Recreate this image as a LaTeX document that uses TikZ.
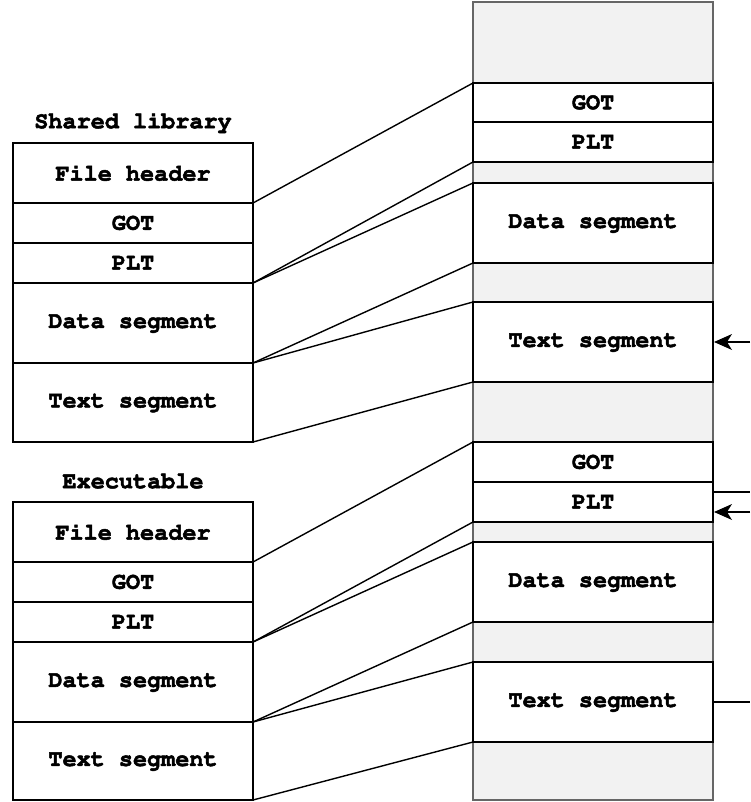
\documentclass[tikz,border=0pt]{standalone}
\usetikzlibrary{arrows.meta}
\definecolor{mgray}{HTML}{F2F2F2}
\definecolor{bgray}{HTML}{666666}
\newcommand{\courb}{\fontencoding{T1}\fontfamily{pcr}\fontseries{b}\fontsize{23.5}{27}\selectfont}
\newcommand{\fb}[1]{\special{pdf:literal direct 2 Tr 0.5 w}#1\special{pdf:literal direct 0 Tr}}
\begin{document}
\begin{tikzpicture}[x=1pt,y=-1pt,
  font=\courb,
  seg/.style={draw=black,line width=1.5pt,fill=white},
  conn/.style={line width=1.4pt},
  tiphead/.style={fill=black}]
\useasboundingbox (0,0) rectangle (750,802);
% memory column
\draw[fill=mgray,draw=bgray,line width=1.5pt] (473,2) rectangle (713,800);
% right segments
\draw[seg] (473,83) rectangle (713,122) node[midway] (rgot) {\fb{GOT}};
\draw[seg] (473,122) rectangle (713,162) node[midway] (rplt) {\fb{PLT}};
\draw[seg] (473,183) rectangle (713,263) node[midway] (rdata) {\fb{Data segment}};
\draw[seg] (473,302) rectangle (713,382) node[midway] (rtext) {\fb{Text segment}};
\draw[seg] (473,442) rectangle (713,482) node[midway] (rgotb) {\fb{GOT}};
\draw[seg] (473,482) rectangle (713,522) node[midway] (rpltb) {\fb{PLT}};
\draw[seg] (473,542) rectangle (713,622) node[midway] (rdatab) {\fb{Data segment}};
\draw[seg] (473,662) rectangle (713,742) node[midway] (rtextb) {\fb{Text segment}};
% left: shared library
\node (shl) at (133,122) {\fb{Shared library}};
\draw[seg] (13,143) rectangle (253,203) node[midway] (sfh) {\fb{File header}};
\draw[seg] (13,203) rectangle (253,243) node[midway] (sgot) {\fb{GOT}};
\draw[seg] (13,243) rectangle (253,283) node[midway] (splt) {\fb{PLT}};
\draw[seg] (13,283) rectangle (253,363) node[midway] (sdata) {\fb{Data segment}};
\draw[seg] (13,363) rectangle (253,442) node[midway] (stext) {\fb{Text segment}};
% left: executable
\node (exl) at (133,481) {\fb{Executable}};
\draw[seg] (13,502) rectangle (253,562) node[midway] (efh) {\fb{File header}};
\draw[seg] (13,562) rectangle (253,602) node[midway] (egot) {\fb{GOT}};
\draw[seg] (13,602) rectangle (253,642) node[midway] (eplt) {\fb{PLT}};
\draw[seg] (13,642) rectangle (253,722) node[midway] (edata) {\fb{Data segment}};
\draw[seg] (13,722) rectangle (253,800) node[midway] (etext) {\fb{Text segment}};
% connectors shared library
\coordinate (a1) at (253,203); \coordinate (b1) at (473,83);
\coordinate (a2) at (253,283); \coordinate (b2) at (473,162); \coordinate (b3) at (473,183);
\coordinate (a3) at (253,363); \coordinate (b4) at (473,263); \coordinate (b5) at (473,302);
\coordinate (a4) at (253,442); \coordinate (b6) at (473,382);
\draw[conn] (a1) -- (b1);
\draw[conn] (a2) -- (b2); \draw[conn] (a2) -- (b3);
\draw[conn] (a3) -- (b4); \draw[conn] (a3) -- (b5);
\draw[conn] (a4) -- (b6);
% connectors executable
\coordinate (c1) at (253,562); \coordinate (d1) at (473,442);
\coordinate (c2) at (253,642); \coordinate (d2) at (473,522); \coordinate (d3) at (473,542);
\coordinate (c3) at (253,722); \coordinate (d4) at (473,622); \coordinate (d5) at (473,662);
\coordinate (c4) at (253,800); \coordinate (d6) at (473,742);
\draw[conn] (c1) -- (d1);
\draw[conn] (c2) -- (d2); \draw[conn] (c2) -- (d3);
\draw[conn] (c3) -- (d4); \draw[conn] (c3) -- (d5);
\draw[conn] (c4) -- (d6);
% right-side arrows
\coordinate (e1) at (750,342); \coordinate (f1) at (714,342);
\coordinate (e2) at (750,492); \coordinate (f2) at (713,492);
\coordinate (e3) at (750,512); \coordinate (f3) at (714,512);
\coordinate (e4) at (750,702); \coordinate (f4) at (713,702);
\draw[conn] (e1) -- ([xshift=10pt]f1);
\fill[tiphead,shift={(f1)}] (0,0) -- (18,-8) -- (13,0) -- (18,8) -- cycle;
\draw[conn] (f2) -- (e2);
\draw[conn] (e3) -- ([xshift=10pt]f3);
\fill[tiphead,shift={(f3)}] (0,0) -- (18,-8) -- (13,0) -- (18,8) -- cycle;
\draw[conn] (f4) -- (e4);
\end{tikzpicture}
\end{document}
